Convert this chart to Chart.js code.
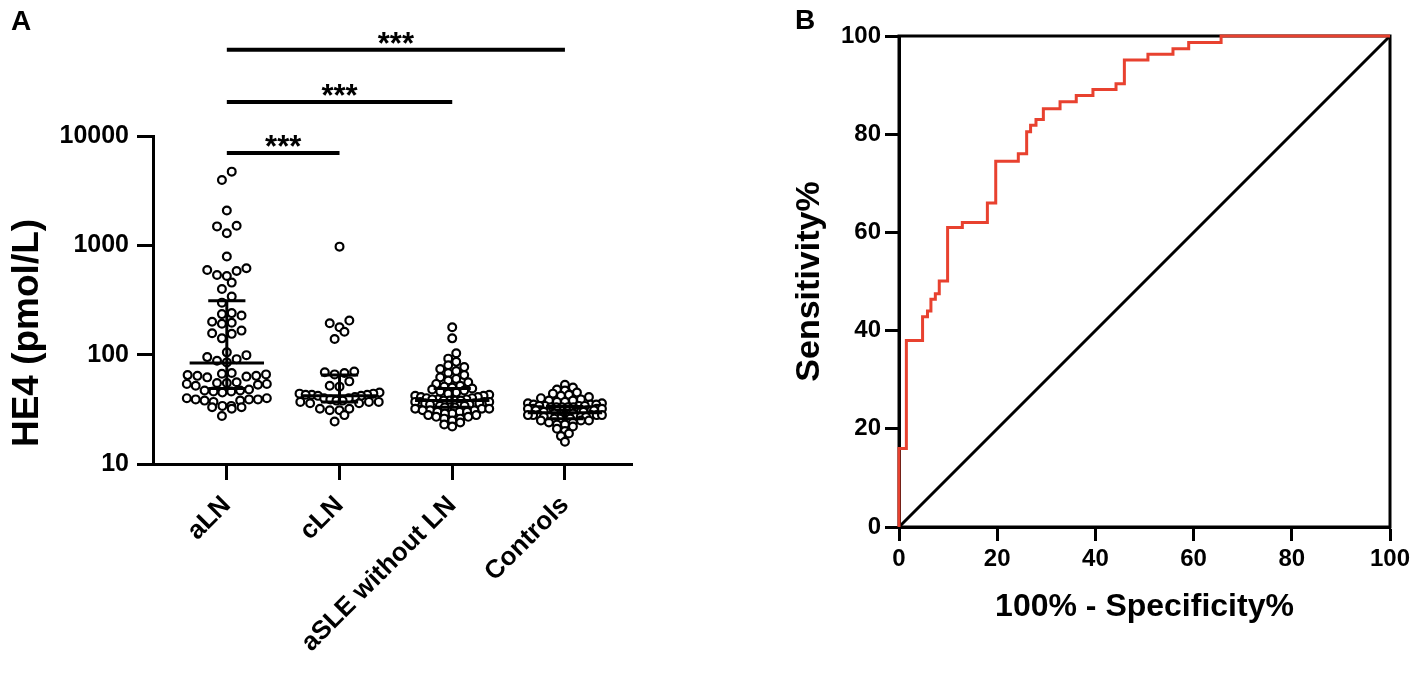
<!DOCTYPE html>
<html>
<head>
<meta charset="utf-8">
<script src="https://cdn.jsdelivr.net/npm/chart.js@4.4.0/dist/chart.umd.min.js"></script>
<style>
  body { margin: 0; background: #fff; width: 1417px; height: 674px; overflow: hidden; position: relative; }
  canvas { position: absolute; top: 0; }
  #chartA { left: 0; }
  #chartB { left: 700px; }
</style>
</head>
<body>
<canvas id="chartA" width="700" height="674" style="width:700px;height:674px"></canvas>
<canvas id="chartB" width="717" height="674" style="width:717px;height:674px"></canvas>
<script>
// panel A: HE4 per group (pmol/L)
const groups = ["aLN", "cLN", "aSLE without LN", "Controls"];
const aLN = [4720, 3960, 2080, 1510, 1490, 1290, 790, 617, 595, 583, 536, 525, 456, 399, 340, 299,
  240, 235, 228, 200, 196, 192, 166, 157, 155, 141, 105, 99, 95, 91, 88, 85, 68, 67, 66, 65, 64, 64,
  63, 62, 56, 55, 55, 54, 54, 53, 52, 48, 47, 47, 46, 46, 45, 40, 40, 39, 39, 39, 38, 38, 37, 34, 34,
  33, 33, 32, 27.5];
const cLN = [973, 205, 194, 178, 162, 139, 70, 69, 68, 66, 57, 52, 51, 45, 44, 44, 43, 43, 43, 42, 42,
  41, 40, 40, 39, 38, 38, 37, 37, 37, 36, 36, 32, 32, 31, 31, 28, 24.5];
const aSLE = [178, 141, 103, 92, 86, 80, 77, 74, 71, 68, 65, 62, 60, 58, 56, 54, 52, 51, 50, 49, 48, 47,
  46, 45, 44, 43, 42, 42, 41, 41, 40, 40, 39, 39, 39, 38, 38, 38, 38, 37, 37, 37, 37, 36, 36, 36, 35, 35,
  35, 34, 34, 34, 33, 33, 33, 32, 32, 32, 31, 31, 31, 30, 30, 30, 29, 29, 28, 28, 27, 27, 26, 26, 25, 24,
  23, 22];
const controls = [53, 50, 48, 47, 45, 44, 43, 42, 41, 40, 39, 38, 38, 37, 37, 36, 36, 35, 35, 35, 34, 34,
  34, 34, 33, 33, 33, 33, 33, 32, 32, 32, 32, 32, 32, 31, 31, 31, 31, 31, 31, 31, 30, 30, 30, 30, 30, 30,
  30, 30, 29, 29, 29, 29, 29, 29, 29, 29, 28, 28, 28, 28, 28, 28, 27, 27, 27, 27, 27, 26, 26, 26, 26, 25,
  25, 25, 24, 24, 23, 23, 22, 21, 20, 19, 18, 16];
const groupValues = [aLN, cLN, aSLE, controls];

// median with interquartile range
const medians = [84, 42, 38, 29.5];
const q1 = [49, 37, 33, 26];
const q3 = [312, 65, 49, 33.5];

const yTicksA = [10, 100, 1000, 10000];

// significance brackets (aLN vs each group)
const sigPairs = [[0, 1], [0, 2], [0, 3]];
const sigLevels = [7000, 20500, 61400];
const sigLabels = ["***", "***", "***"];

// panel B: ROC curve corners (100% - specificity, sensitivity)
const rocX = [0, 0, 1.5, 4.8, 5.8, 6.5, 7.4, 8.2, 9.9, 12.9, 18, 19.7, 24.3, 26, 26.8, 27.9, 29.4,
  32.8, 36.1, 39.5, 44.2, 45.9, 50.7, 55.8, 59, 65.6, 100];
const rocY = [0, 16, 38, 42.8, 44, 46.4, 47.5, 50.1, 61, 62, 66, 74.5, 76, 80.5, 81.8, 83, 85.2,
  86.6, 87.9, 89.1, 90.3, 95.1, 96.3, 97.4, 98.7, 100, 100];
const refX = [0, 100];
const refY = [0, 100];
const ticksB = [0, 20, 40, 60, 80, 100];

const FONT = '"Liberation Sans", Arial, Helvetica, sans-serif';
Chart.defaults.font.family = FONT;
Chart.defaults.font.weight = "bold";
Chart.defaults.color = "#000";
Chart.defaults.animation = false;

const BLACK = "#000";
const RED = "#e8412f";

// --- panel A ---
const GAP = { x: null, y: null };
const errorBarSets = medians.map((m, g) => ({
  data: [
    { x: g - 0.33, y: m }, { x: g + 0.33, y: m }, GAP,
    { x: g, y: q1[g] }, { x: g, y: q3[g] }, GAP,
    { x: g - 0.165, y: q3[g] }, { x: g + 0.165, y: q3[g] }, GAP,
    { x: g - 0.165, y: q1[g] }, { x: g + 0.165, y: q1[g] }
  ],
  showLine: true, spanGaps: false, borderColor: BLACK, borderWidth: 3,
  pointRadius: 0, order: 0
}));

const sigSets = sigPairs.map((p, i) => ({
  data: [{ x: p[0], y: sigLevels[i] }, { x: p[1], y: sigLevels[i] }],
  showLine: true, borderColor: BLACK, borderWidth: 4, pointRadius: 0, clip: false, order: 0
}));

const pointSets = groupValues.map((vals, g) => ({
  data: vals.map(v => ({ x: g, y: v })),
  pointRadius: 3.9, pointBorderWidth: 2.2, pointBackgroundColor: "#fff",
  pointBorderColor: BLACK, order: 1
}));

const annotA = {
  id: "annotA",
  afterDraw(chart) {
    const ctx = chart.ctx, xs = chart.scales.x, ys = chart.scales.y;
    ctx.save();
    ctx.fillStyle = BLACK;
    ctx.textAlign = "center";
    ctx.textBaseline = "alphabetic";
    ctx.font = "bold 31px " + FONT;
    sigPairs.forEach((p, i) => {
      const cx = (xs.getPixelForValue(p[0]) + xs.getPixelForValue(p[1])) / 2;
      ctx.fillText(sigLabels[i], cx, ys.getPixelForValue(sigLevels[i]) + 4);
    });
    ctx.textAlign = "left";
    ctx.font = "bold 28px " + FONT;
    ctx.fillText("A", 11, 30);
    ctx.translate(28, 333);
    ctx.rotate(-Math.PI / 2);
    ctx.textAlign = "center";
    ctx.textBaseline = "middle";
    ctx.font = "bold 37px " + FONT;
    ctx.fillText("HE4 (pmol/L)", 0, 0);
    ctx.restore();
  }
};

const chartA = new Chart(document.getElementById("chartA"), {
  type: "scatter",
  data: { datasets: [...errorBarSets, ...sigSets, ...pointSets] },
  options: {
    responsive: false,
    layout: { padding: { left: 0, right: 68, top: 136, bottom: 0 } },
    plugins: { legend: { display: false }, tooltip: { enabled: false } },
    scales: {
      x: {
        type: "linear", min: -0.655, max: 3.595,
        afterBuildTicks: s => { s.ticks = groups.map((_, i) => ({ value: i })); },
        afterFit: s => { s.height = 210; },
        ticks: { callback: v => groups[v], minRotation: 45, maxRotation: 45, padding: 10,
          font: { size: 26, weight: "bold" }, color: BLACK },
        grid: { drawOnChartArea: false, tickLength: 16, tickWidth: 3, color: BLACK },
        border: { width: 3, color: BLACK }
      },
      y: {
        type: "logarithmic", min: 10, max: 10000,
        afterBuildTicks: s => { s.ticks = yTicksA.map(v => ({ value: v })); },
        afterFit: s => { s.width = 153; },
        ticks: { callback: v => String(v), padding: 8, font: { size: 25, weight: "bold" }, color: BLACK },
        grid: { drawOnChartArea: false, tickLength: 16, tickWidth: 3, color: BLACK },
        border: { width: 3, color: BLACK }
      }
    }
  },
  plugins: [annotA]
});

// spread each column sideways in rows (like GraphPad's scatter dot plot),
// using pixel positions from the chart's own y scale
function rowOffsets(py, rowH, sp, maxHalf) {
  const idx = py.map((_, i) => i).sort((a, b) => py[b] - py[a]);
  const dx = new Array(py.length).fill(0);
  let row = [];
  let start = 0;
  const flush = () => {
    const n = row.length;
    const s = n > 1 ? Math.min(sp, 2 * maxHalf / (n - 1)) : 0;
    const slots = row.map((_, k) => (k - (n - 1) / 2) * s)
      .sort((a, b) => Math.abs(a) - Math.abs(b) || a - b);
    row.forEach((i, k) => { dx[i] = slots[k]; });
    row = [];
  };
  for (const i of idx) {
    if (row.length && start - py[i] >= rowH) flush();
    if (!row.length) start = py[i];
    row.push(i);
  }
  flush();
  return dx;
}

const rowHeight = [9, 9, 6, 5];
const rowSpacing = [9.8, 9.8, 8, 8];
const rowHalfWidth = [40, 40, 37, 37];
const pxPerUnit = chartA.scales.x.getPixelForValue(1) - chartA.scales.x.getPixelForValue(0);
groupValues.forEach((vals, g) => {
  const py = vals.map(v => chartA.scales.y.getPixelForValue(v));
  const dx = rowOffsets(py, rowHeight[g], rowSpacing[g], rowHalfWidth[g]);
  pointSets[g].data = vals.map((v, i) => ({ x: g + dx[i] / pxPerUnit, y: v }));
});
chartA.update("none");

// --- panel B ---
const frameB = {
  id: "frameB",
  beforeDatasetsDraw(chart) {
    const { ctx, chartArea: a } = chart;
    ctx.save();
    ctx.strokeStyle = BLACK;
    ctx.lineWidth = 3;
    ctx.strokeRect(a.left, a.top, a.right - a.left, a.bottom - a.top);
    ctx.restore();
  },
  afterDraw(chart) {
    const ctx = chart.ctx;
    ctx.save();
    ctx.fillStyle = BLACK;
    ctx.font = "bold 28px " + FONT;
    ctx.fillText("B", 95, 29);
    ctx.restore();
  }
};

const axisB = (title, size) => ({
  type: "linear", min: 0, max: 100,
  afterBuildTicks: s => { s.ticks = ticksB.map(v => ({ value: v })); },
  ticks: { padding: 4, font: { size: 24, weight: "bold" }, color: BLACK },
  grid: { drawOnChartArea: false, tickLength: 14, tickWidth: 3, color: BLACK },
  border: { width: 3, color: BLACK },
  title: { display: true, text: title, color: BLACK, font: { size: size, weight: "bold" },
    padding: { top: 4, bottom: 4 } }
});

const xB = axisB("100% - Specificity%", 32);
xB.afterFit = s => { s.height = 103; };
const yB = axisB("Sensitivity%", 34);
yB.afterFit = s => { s.width = 114; };

new Chart(document.getElementById("chartB"), {
  type: "scatter",
  data: {
    datasets: [
      { data: rocX.map((x, i) => ({ x: x, y: rocY[i] })), showLine: true, stepped: "before",
        borderColor: RED, borderWidth: 3, pointRadius: 0, clip: false },
      { data: refX.map((x, i) => ({ x: x, y: refY[i] })), showLine: true,
        borderColor: BLACK, borderWidth: 3, pointRadius: 0, clip: false }
    ]
  },
  options: {
    responsive: false,
    layout: { padding: { left: 85, right: 27, top: 36, bottom: 44 } },
    plugins: { legend: { display: false }, tooltip: { enabled: false } },
    scales: { x: xB, y: yB }
  },
  plugins: [frameB]
});
</script>
</body>
</html>
